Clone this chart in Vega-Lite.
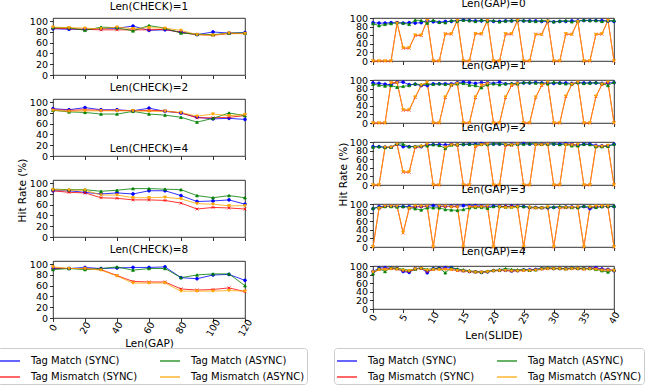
{
"$schema":"https://vega.github.io/schema/vega-lite/v6.json",
"padding":{"left":-4,"top":-2,"right":0,"bottom":0},
"data":{"values":[
{"p":"L","g":1,"x":0,"ms":86,"xs":87,"ma":88,"xa":89},
{"p":"L","g":1,"x":10,"ms":85,"xs":86,"ma":88,"xa":88},
{"p":"L","g":1,"x":20,"ms":85,"xs":85,"ma":83,"xa":87},
{"p":"L","g":1,"x":30,"ms":86,"xs":84,"ma":89,"xa":86},
{"p":"L","g":1,"x":40,"ms":87,"xs":84,"ma":88,"xa":89},
{"p":"L","g":1,"x":50,"ms":91,"xs":84,"ma":82,"xa":86},
{"p":"L","g":1,"x":60,"ms":83,"xs":84,"ma":92,"xa":88},
{"p":"L","g":1,"x":70,"ms":84,"xs":85,"ma":87,"xa":87},
{"p":"L","g":1,"x":80,"ms":80,"xs":79,"ma":78,"xa":83},
{"p":"L","g":1,"x":90,"ms":75,"xs":75,"ma":76,"xa":75},
{"p":"L","g":1,"x":100,"ms":80,"xs":74,"ma":75,"xa":74},
{"p":"L","g":1,"x":110,"ms":78,"xs":77,"ma":78,"xa":78},
{"p":"L","g":1,"x":120,"ms":79,"xs":77,"ma":78,"xa":77},
{"p":"L","g":2,"x":0,"ms":88,"xs":86,"ma":85,"xa":85},
{"p":"L","g":2,"x":10,"ms":86,"xs":85,"ma":82,"xa":83},
{"p":"L","g":2,"x":20,"ms":90,"xs":86,"ma":81,"xa":84},
{"p":"L","g":2,"x":30,"ms":86,"xs":85,"ma":78,"xa":84},
{"p":"L","g":2,"x":40,"ms":86,"xs":85,"ma":78,"xa":84},
{"p":"L","g":2,"x":50,"ms":84,"xs":84,"ma":83,"xa":84},
{"p":"L","g":2,"x":60,"ms":89,"xs":85,"ma":78,"xa":83},
{"p":"L","g":2,"x":70,"ms":83,"xs":84,"ma":76,"xa":83},
{"p":"L","g":2,"x":80,"ms":80,"xs":80,"ma":72,"xa":81},
{"p":"L","g":2,"x":90,"ms":72,"xs":71,"ma":63,"xa":74},
{"p":"L","g":2,"x":100,"ms":69,"xs":71,"ma":70,"xa":78},
{"p":"L","g":2,"x":110,"ms":70,"xs":72,"ma":80,"xa":75},
{"p":"L","g":2,"x":120,"ms":68,"xs":75,"ma":75,"xa":77},
{"p":"L","g":4,"x":0,"ms":86,"xs":86,"ma":89,"xa":88},
{"p":"L","g":4,"x":10,"ms":86,"xs":83,"ma":88,"xa":87},
{"p":"L","g":4,"x":20,"ms":83,"xs":82,"ma":88,"xa":87},
{"p":"L","g":4,"x":30,"ms":80,"xs":73,"ma":85,"xa":78},
{"p":"L","g":4,"x":40,"ms":82,"xs":72,"ma":87,"xa":78},
{"p":"L","g":4,"x":50,"ms":80,"xs":69,"ma":90,"xa":73},
{"p":"L","g":4,"x":60,"ms":86,"xs":69,"ma":90,"xa":73},
{"p":"L","g":4,"x":70,"ms":86,"xs":68,"ma":89,"xa":74},
{"p":"L","g":4,"x":80,"ms":77,"xs":63,"ma":88,"xa":71},
{"p":"L","g":4,"x":90,"ms":66,"xs":52,"ma":77,"xa":62},
{"p":"L","g":4,"x":100,"ms":67,"xs":55,"ma":73,"xa":61},
{"p":"L","g":4,"x":110,"ms":69,"xs":54,"ma":77,"xa":58},
{"p":"L","g":4,"x":120,"ms":61,"xs":52,"ma":73,"xa":58},
{"p":"L","g":8,"x":0,"ms":92,"xs":93,"ma":90,"xa":95},
{"p":"L","g":8,"x":10,"ms":92,"xs":92,"ma":92,"xa":92},
{"p":"L","g":8,"x":20,"ms":94,"xs":92,"ma":90,"xa":92},
{"p":"L","g":8,"x":30,"ms":92,"xs":90,"ma":92,"xa":89},
{"p":"L","g":8,"x":40,"ms":93,"xs":79,"ma":95,"xa":78},
{"p":"L","g":8,"x":50,"ms":94,"xs":68,"ma":89,"xa":65},
{"p":"L","g":8,"x":60,"ms":94,"xs":67,"ma":92,"xa":65},
{"p":"L","g":8,"x":70,"ms":95,"xs":67,"ma":92,"xa":65},
{"p":"L","g":8,"x":80,"ms":75,"xs":54,"ma":75,"xa":50},
{"p":"L","g":8,"x":90,"ms":73,"xs":52,"ma":80,"xa":50},
{"p":"L","g":8,"x":100,"ms":80,"xs":53,"ma":82,"xa":50},
{"p":"L","g":8,"x":110,"ms":81,"xs":56,"ma":82,"xa":51},
{"p":"L","g":8,"x":120,"ms":70,"xs":49,"ma":60,"xa":50},
{"p":"R","g":0,"x":0,"ms":90,"xs":0,"ma":88,"xa":0},
{"p":"R","g":0,"x":1,"ms":89,"xs":0,"ma":83,"xa":0},
{"p":"R","g":0,"x":2,"ms":89,"xs":0,"ma":86,"xa":0},
{"p":"R","g":0,"x":3,"ms":90,"xs":0,"ma":88,"xa":0},
{"p":"R","g":0,"x":4,"ms":90,"xs":90,"ma":90,"xa":88},
{"p":"R","g":0,"x":5,"ms":89,"xs":30,"ma":89,"xa":31},
{"p":"R","g":0,"x":6,"ms":90,"xs":30,"ma":86,"xa":31},
{"p":"R","g":0,"x":7,"ms":89,"xs":60,"ma":96,"xa":61},
{"p":"R","g":0,"x":8,"ms":90,"xs":60,"ma":95,"xa":61},
{"p":"R","g":0,"x":9,"ms":95,"xs":96,"ma":89,"xa":95},
{"p":"R","g":0,"x":10,"ms":92,"xs":0,"ma":96,"xa":0},
{"p":"R","g":0,"x":11,"ms":91,"xs":0,"ma":91,"xa":0},
{"p":"R","g":0,"x":12,"ms":93,"xs":64,"ma":90,"xa":63},
{"p":"R","g":0,"x":13,"ms":93,"xs":63,"ma":95,"xa":64},
{"p":"R","g":0,"x":14,"ms":95,"xs":96,"ma":94,"xa":95},
{"p":"R","g":0,"x":15,"ms":96,"xs":0,"ma":96,"xa":0},
{"p":"R","g":0,"x":16,"ms":95,"xs":0,"ma":95,"xa":0},
{"p":"R","g":0,"x":17,"ms":94,"xs":65,"ma":93,"xa":64},
{"p":"R","g":0,"x":18,"ms":94,"xs":63,"ma":96,"xa":64},
{"p":"R","g":0,"x":19,"ms":95,"xs":96,"ma":94,"xa":95},
{"p":"R","g":0,"x":20,"ms":93,"xs":0,"ma":95,"xa":0},
{"p":"R","g":0,"x":21,"ms":93,"xs":0,"ma":92,"xa":0},
{"p":"R","g":0,"x":22,"ms":94,"xs":63,"ma":94,"xa":64},
{"p":"R","g":0,"x":23,"ms":94,"xs":63,"ma":95,"xa":64},
{"p":"R","g":0,"x":24,"ms":95,"xs":96,"ma":96,"xa":95},
{"p":"R","g":0,"x":25,"ms":94,"xs":0,"ma":95,"xa":0},
{"p":"R","g":0,"x":26,"ms":94,"xs":0,"ma":94,"xa":0},
{"p":"R","g":0,"x":27,"ms":94,"xs":63,"ma":93,"xa":62},
{"p":"R","g":0,"x":28,"ms":93,"xs":63,"ma":95,"xa":62},
{"p":"R","g":0,"x":29,"ms":93,"xs":94,"ma":95,"xa":93},
{"p":"R","g":0,"x":30,"ms":92,"xs":0,"ma":92,"xa":0},
{"p":"R","g":0,"x":31,"ms":93,"xs":0,"ma":94,"xa":0},
{"p":"R","g":0,"x":32,"ms":93,"xs":63,"ma":95,"xa":64},
{"p":"R","g":0,"x":33,"ms":94,"xs":63,"ma":92,"xa":62},
{"p":"R","g":0,"x":34,"ms":94,"xs":93,"ma":94,"xa":92},
{"p":"R","g":0,"x":35,"ms":95,"xs":0,"ma":96,"xa":0},
{"p":"R","g":0,"x":36,"ms":95,"xs":0,"ma":95,"xa":0},
{"p":"R","g":0,"x":37,"ms":95,"xs":63,"ma":95,"xa":62},
{"p":"R","g":0,"x":38,"ms":95,"xs":63,"ma":93,"xa":64},
{"p":"R","g":0,"x":39,"ms":94,"xs":96,"ma":95,"xa":95},
{"p":"R","g":0,"x":40,"ms":93,"xs":0,"ma":95,"xa":0},
{"p":"R","g":1,"x":0,"ms":94,"xs":0,"ma":91,"xa":0},
{"p":"R","g":1,"x":1,"ms":93,"xs":0,"ma":89,"xa":0},
{"p":"R","g":1,"x":2,"ms":91,"xs":0,"ma":87,"xa":0},
{"p":"R","g":1,"x":3,"ms":90,"xs":95,"ma":88,"xa":94},
{"p":"R","g":1,"x":4,"ms":96,"xs":95,"ma":84,"xa":94},
{"p":"R","g":1,"x":5,"ms":96,"xs":30,"ma":86,"xa":31},
{"p":"R","g":1,"x":6,"ms":90,"xs":30,"ma":88,"xa":31},
{"p":"R","g":1,"x":7,"ms":91,"xs":60,"ma":92,"xa":61},
{"p":"R","g":1,"x":8,"ms":88,"xs":88,"ma":90,"xa":89},
{"p":"R","g":1,"x":9,"ms":88,"xs":95,"ma":92,"xa":96},
{"p":"R","g":1,"x":10,"ms":92,"xs":0,"ma":91,"xa":0},
{"p":"R","g":1,"x":11,"ms":92,"xs":0,"ma":92,"xa":0},
{"p":"R","g":1,"x":12,"ms":92,"xs":60,"ma":91,"xa":61},
{"p":"R","g":1,"x":13,"ms":92,"xs":88,"ma":90,"xa":89},
{"p":"R","g":1,"x":14,"ms":95,"xs":92,"ma":92,"xa":93},
{"p":"R","g":1,"x":15,"ms":96,"xs":0,"ma":93,"xa":0},
{"p":"R","g":1,"x":16,"ms":95,"xs":0,"ma":89,"xa":0},
{"p":"R","g":1,"x":17,"ms":93,"xs":60,"ma":88,"xa":61},
{"p":"R","g":1,"x":18,"ms":95,"xs":88,"ma":83,"xa":89},
{"p":"R","g":1,"x":19,"ms":95,"xs":92,"ma":90,"xa":93},
{"p":"R","g":1,"x":20,"ms":93,"xs":0,"ma":92,"xa":0},
{"p":"R","g":1,"x":21,"ms":96,"xs":0,"ma":90,"xa":0},
{"p":"R","g":1,"x":22,"ms":92,"xs":60,"ma":92,"xa":61},
{"p":"R","g":1,"x":23,"ms":92,"xs":88,"ma":93,"xa":89},
{"p":"R","g":1,"x":24,"ms":94,"xs":92,"ma":92,"xa":93},
{"p":"R","g":1,"x":25,"ms":94,"xs":0,"ma":95,"xa":0},
{"p":"R","g":1,"x":26,"ms":94,"xs":0,"ma":95,"xa":0},
{"p":"R","g":1,"x":27,"ms":95,"xs":60,"ma":94,"xa":61},
{"p":"R","g":1,"x":28,"ms":94,"xs":88,"ma":94,"xa":89},
{"p":"R","g":1,"x":29,"ms":94,"xs":95,"ma":92,"xa":96},
{"p":"R","g":1,"x":30,"ms":93,"xs":0,"ma":96,"xa":0},
{"p":"R","g":1,"x":31,"ms":94,"xs":0,"ma":94,"xa":0},
{"p":"R","g":1,"x":32,"ms":94,"xs":62,"ma":92,"xa":63},
{"p":"R","g":1,"x":33,"ms":93,"xs":90,"ma":92,"xa":91},
{"p":"R","g":1,"x":34,"ms":95,"xs":95,"ma":95,"xa":96},
{"p":"R","g":1,"x":35,"ms":94,"xs":0,"ma":93,"xa":0},
{"p":"R","g":1,"x":36,"ms":94,"xs":0,"ma":94,"xa":0},
{"p":"R","g":1,"x":37,"ms":94,"xs":62,"ma":95,"xa":63},
{"p":"R","g":1,"x":38,"ms":93,"xs":90,"ma":93,"xa":91},
{"p":"R","g":1,"x":39,"ms":94,"xs":95,"ma":88,"xa":96},
{"p":"R","g":1,"x":40,"ms":95,"xs":0,"ma":96,"xa":0},
{"p":"R","g":2,"x":0,"ms":90,"xs":0,"ma":89,"xa":0},
{"p":"R","g":2,"x":1,"ms":90,"xs":0,"ma":90,"xa":0},
{"p":"R","g":2,"x":2,"ms":89,"xs":88,"ma":88,"xa":89},
{"p":"R","g":2,"x":3,"ms":89,"xs":88,"ma":89,"xa":89},
{"p":"R","g":2,"x":4,"ms":96,"xs":95,"ma":97,"xa":96},
{"p":"R","g":2,"x":5,"ms":90,"xs":30,"ma":96,"xa":31},
{"p":"R","g":2,"x":6,"ms":90,"xs":30,"ma":90,"xa":31},
{"p":"R","g":2,"x":7,"ms":90,"xs":88,"ma":91,"xa":89},
{"p":"R","g":2,"x":8,"ms":90,"xs":90,"ma":92,"xa":91},
{"p":"R","g":2,"x":9,"ms":95,"xs":95,"ma":92,"xa":96},
{"p":"R","g":2,"x":10,"ms":95,"xs":0,"ma":95,"xa":0},
{"p":"R","g":2,"x":11,"ms":95,"xs":0,"ma":93,"xa":0},
{"p":"R","g":2,"x":12,"ms":94,"xs":88,"ma":86,"xa":89},
{"p":"R","g":2,"x":13,"ms":96,"xs":95,"ma":94,"xa":94},
{"p":"R","g":2,"x":14,"ms":95,"xs":93,"ma":95,"xa":94},
{"p":"R","g":2,"x":15,"ms":95,"xs":0,"ma":96,"xa":0},
{"p":"R","g":2,"x":16,"ms":96,"xs":0,"ma":96,"xa":0},
{"p":"R","g":2,"x":17,"ms":96,"xs":90,"ma":95,"xa":91},
{"p":"R","g":2,"x":18,"ms":97,"xs":95,"ma":96,"xa":94},
{"p":"R","g":2,"x":19,"ms":96,"xs":97,"ma":95,"xa":96},
{"p":"R","g":2,"x":20,"ms":96,"xs":0,"ma":97,"xa":0},
{"p":"R","g":2,"x":21,"ms":96,"xs":0,"ma":97,"xa":0},
{"p":"R","g":2,"x":22,"ms":95,"xs":93,"ma":96,"xa":94},
{"p":"R","g":2,"x":23,"ms":96,"xs":93,"ma":95,"xa":94},
{"p":"R","g":2,"x":24,"ms":96,"xs":97,"ma":96,"xa":96},
{"p":"R","g":2,"x":25,"ms":97,"xs":0,"ma":96,"xa":0},
{"p":"R","g":2,"x":26,"ms":96,"xs":0,"ma":97,"xa":0},
{"p":"R","g":2,"x":27,"ms":96,"xs":95,"ma":97,"xa":94},
{"p":"R","g":2,"x":28,"ms":96,"xs":95,"ma":96,"xa":94},
{"p":"R","g":2,"x":29,"ms":97,"xs":95,"ma":96,"xa":96},
{"p":"R","g":2,"x":30,"ms":96,"xs":0,"ma":97,"xa":0},
{"p":"R","g":2,"x":31,"ms":96,"xs":0,"ma":95,"xa":0},
{"p":"R","g":2,"x":32,"ms":97,"xs":95,"ma":96,"xa":94},
{"p":"R","g":2,"x":33,"ms":96,"xs":95,"ma":92,"xa":94},
{"p":"R","g":2,"x":34,"ms":94,"xs":94,"ma":92,"xa":95},
{"p":"R","g":2,"x":35,"ms":96,"xs":0,"ma":96,"xa":0},
{"p":"R","g":2,"x":36,"ms":96,"xs":0,"ma":95,"xa":0},
{"p":"R","g":2,"x":37,"ms":93,"xs":90,"ma":90,"xa":91},
{"p":"R","g":2,"x":38,"ms":92,"xs":90,"ma":90,"xa":91},
{"p":"R","g":2,"x":39,"ms":92,"xs":92,"ma":91,"xa":93},
{"p":"R","g":2,"x":40,"ms":96,"xs":0,"ma":96,"xa":0},
{"p":"R","g":3,"x":0,"ms":90,"xs":0,"ma":91,"xa":0},
{"p":"R","g":3,"x":1,"ms":95,"xs":90,"ma":93,"xa":91},
{"p":"R","g":3,"x":2,"ms":96,"xs":95,"ma":95,"xa":96},
{"p":"R","g":3,"x":3,"ms":96,"xs":95,"ma":95,"xa":96},
{"p":"R","g":3,"x":4,"ms":96,"xs":95,"ma":94,"xa":96},
{"p":"R","g":3,"x":5,"ms":95,"xs":33,"ma":95,"xa":34},
{"p":"R","g":3,"x":6,"ms":95,"xs":90,"ma":93,"xa":91},
{"p":"R","g":3,"x":7,"ms":94,"xs":95,"ma":90,"xa":96},
{"p":"R","g":3,"x":8,"ms":95,"xs":95,"ma":87,"xa":96},
{"p":"R","g":3,"x":9,"ms":96,"xs":95,"ma":92,"xa":96},
{"p":"R","g":3,"x":10,"ms":97,"xs":0,"ma":92,"xa":0},
{"p":"R","g":3,"x":11,"ms":96,"xs":95,"ma":92,"xa":96},
{"p":"R","g":3,"x":12,"ms":96,"xs":95,"ma":88,"xa":96},
{"p":"R","g":3,"x":13,"ms":96,"xs":95,"ma":87,"xa":94},
{"p":"R","g":3,"x":14,"ms":96,"xs":95,"ma":86,"xa":94},
{"p":"R","g":3,"x":15,"ms":97,"xs":0,"ma":88,"xa":0},
{"p":"R","g":3,"x":16,"ms":97,"xs":95,"ma":92,"xa":94},
{"p":"R","g":3,"x":17,"ms":97,"xs":95,"ma":93,"xa":94},
{"p":"R","g":3,"x":18,"ms":96,"xs":95,"ma":93,"xa":94},
{"p":"R","g":3,"x":19,"ms":96,"xs":95,"ma":91,"xa":96},
{"p":"R","g":3,"x":20,"ms":96,"xs":0,"ma":95,"xa":0},
{"p":"R","g":3,"x":21,"ms":96,"xs":95,"ma":95,"xa":94},
{"p":"R","g":3,"x":22,"ms":95,"xs":95,"ma":94,"xa":92},
{"p":"R","g":3,"x":23,"ms":96,"xs":95,"ma":94,"xa":92},
{"p":"R","g":3,"x":24,"ms":96,"xs":95,"ma":95,"xa":94},
{"p":"R","g":3,"x":25,"ms":95,"xs":0,"ma":95,"xa":0},
{"p":"R","g":3,"x":26,"ms":93,"xs":92,"ma":94,"xa":93},
{"p":"R","g":3,"x":27,"ms":93,"xs":92,"ma":93,"xa":91},
{"p":"R","g":3,"x":28,"ms":92,"xs":92,"ma":93,"xa":91},
{"p":"R","g":3,"x":29,"ms":92,"xs":93,"ma":94,"xa":94},
{"p":"R","g":3,"x":30,"ms":93,"xs":0,"ma":94,"xa":0},
{"p":"R","g":3,"x":31,"ms":93,"xs":92,"ma":95,"xa":91},
{"p":"R","g":3,"x":32,"ms":94,"xs":92,"ma":94,"xa":93},
{"p":"R","g":3,"x":33,"ms":94,"xs":92,"ma":93,"xa":93},
{"p":"R","g":3,"x":34,"ms":93,"xs":93,"ma":93,"xa":94},
{"p":"R","g":3,"x":35,"ms":95,"xs":0,"ma":96,"xa":0},
{"p":"R","g":3,"x":36,"ms":90,"xs":93,"ma":95,"xa":94},
{"p":"R","g":3,"x":37,"ms":94,"xs":95,"ma":93,"xa":96},
{"p":"R","g":3,"x":38,"ms":95,"xs":95,"ma":95,"xa":96},
{"p":"R","g":3,"x":39,"ms":95,"xs":95,"ma":96,"xa":96},
{"p":"R","g":3,"x":40,"ms":95,"xs":0,"ma":96,"xa":0},
{"p":"R","g":4,"x":0,"ms":88,"xs":85,"ma":83,"xa":87},
{"p":"R","g":4,"x":1,"ms":96,"xs":93,"ma":95,"xa":92},
{"p":"R","g":4,"x":2,"ms":97,"xs":94,"ma":88,"xa":93},
{"p":"R","g":4,"x":3,"ms":96,"xs":95,"ma":97,"xa":94},
{"p":"R","g":4,"x":4,"ms":95,"xs":94,"ma":96,"xa":93},
{"p":"R","g":4,"x":5,"ms":88,"xs":90,"ma":93,"xa":91},
{"p":"R","g":4,"x":6,"ms":86,"xs":88,"ma":91,"xa":90},
{"p":"R","g":4,"x":7,"ms":95,"xs":93,"ma":94,"xa":94},
{"p":"R","g":4,"x":8,"ms":96,"xs":96,"ma":97,"xa":95},
{"p":"R","g":4,"x":9,"ms":85,"xs":88,"ma":93,"xa":91},
{"p":"R","g":4,"x":10,"ms":95,"xs":93,"ma":95,"xa":92},
{"p":"R","g":4,"x":11,"ms":96,"xs":94,"ma":96,"xa":92},
{"p":"R","g":4,"x":12,"ms":97,"xs":94,"ma":85,"xa":93},
{"p":"R","g":4,"x":13,"ms":97,"xs":93,"ma":97,"xa":92},
{"p":"R","g":4,"x":14,"ms":92,"xs":90,"ma":94,"xa":90},
{"p":"R","g":4,"x":15,"ms":90,"xs":89,"ma":92,"xa":89},
{"p":"R","g":4,"x":16,"ms":88,"xs":88,"ma":90,"xa":88},
{"p":"R","g":4,"x":17,"ms":87,"xs":87,"ma":88,"xa":86},
{"p":"R","g":4,"x":18,"ms":86,"xs":87,"ma":87,"xa":86},
{"p":"R","g":4,"x":19,"ms":87,"xs":88,"ma":89,"xa":87},
{"p":"R","g":4,"x":20,"ms":90,"xs":90,"ma":91,"xa":89},
{"p":"R","g":4,"x":21,"ms":91,"xs":91,"ma":92,"xa":90},
{"p":"R","g":4,"x":22,"ms":91,"xs":91,"ma":95,"xa":90},
{"p":"R","g":4,"x":23,"ms":89,"xs":90,"ma":93,"xa":89},
{"p":"R","g":4,"x":24,"ms":90,"xs":90,"ma":92,"xa":89},
{"p":"R","g":4,"x":25,"ms":92,"xs":91,"ma":93,"xa":90},
{"p":"R","g":4,"x":26,"ms":92,"xs":91,"ma":91,"xa":90},
{"p":"R","g":4,"x":27,"ms":93,"xs":92,"ma":92,"xa":91},
{"p":"R","g":4,"x":28,"ms":95,"xs":94,"ma":96,"xa":93},
{"p":"R","g":4,"x":29,"ms":96,"xs":95,"ma":97,"xa":94},
{"p":"R","g":4,"x":30,"ms":95,"xs":95,"ma":96,"xa":94},
{"p":"R","g":4,"x":31,"ms":95,"xs":95,"ma":96,"xa":94},
{"p":"R","g":4,"x":32,"ms":95,"xs":94,"ma":95,"xa":93},
{"p":"R","g":4,"x":33,"ms":96,"xs":95,"ma":97,"xa":94},
{"p":"R","g":4,"x":34,"ms":95,"xs":95,"ma":96,"xa":94},
{"p":"R","g":4,"x":35,"ms":95,"xs":94,"ma":96,"xa":93},
{"p":"R","g":4,"x":36,"ms":96,"xs":95,"ma":95,"xa":94},
{"p":"R","g":4,"x":37,"ms":97,"xs":95,"ma":93,"xa":93},
{"p":"R","g":4,"x":38,"ms":94,"xs":92,"ma":90,"xa":91},
{"p":"R","g":4,"x":39,"ms":93,"xs":92,"ma":87,"xa":91},
{"p":"R","g":4,"x":40,"ms":90,"xs":91,"ma":92,"xa":90}
]},
"transform":[
{"fold":["ms","xs","ma","xa"],"as":["k","value"]},
{"lookup":"k","from":{"data":{"values":[{"k":"ms","series":"Tag Match (SYNC)"},{"k":"xs","series":"Tag Mismatch (SYNC)"},{"k":"ma","series":"Tag Match (ASYNC)"},{"k":"xa","series":"Tag Mismatch (ASYNC)"}]},"key":"k","fields":["series"]}}
],
"config":{
"font":"DejaVu Sans",
"view":{"stroke":"#000","strokeWidth":0.8},
"axis":{"grid":false,"domain":false,"tickColor":"#000","tickWidth":0.8,"tickSize":3.5,"labelColor":"#000","labelFontSize":9.5,"labelPadding":2,"titleColor":"#000","titleFontSize":10.5,"titleFontWeight":"normal"},
"axisY":{"labelOverlap":false},
"title":{"fontSize":10.5,"fontWeight":"normal","color":"#000","offset":0},
"legend":{"title":null,"labelFontSize":10,"labelColor":"#000","columns":2,"symbolType":"stroke","symbolSize":400,"symbolStrokeWidth":1.5,"columnPadding":19,"rowPadding":-4,"labelOffset":10,"padding":2,"strokeColor":"#cccccc","fillColor":"#ffffff","cornerRadius":3,"orient":"none"}
},
"spacing":25,
"resolve":{"scale":{"color":"independent"}},
"hconcat":[
{"vconcat":[
{"width":192,"height":57,"title":"Len(CHECK)=1","transform":[{"filter":"datum.p == 'L' && datum.g == 1"}],
"encoding":{"x":{"field":"x","type":"quantitative","scale":{"domain":[0,120],"nice":false},"axis":{"values":[0,20,40,60,80,100,120],"labels":false,"title":null}},
"y":{"field":"value","type":"quantitative","scale":{"domain":[0,106],"nice":false},"axis":{"values":[0,20,40,60,80,100],"title":null}}},
"layer":[{"mark":{"type":"line","strokeWidth":1,"opacity":0.8},"encoding":{"color":{"field":"series","type":"nominal","scale":{"domain":["Tag Match (SYNC)","Tag Mismatch (SYNC)","Tag Match (ASYNC)","Tag Mismatch (ASYNC)"],"range":["#0000ff","#ff0000","#008000","#ffa500"]},"legend":null}}},
{"transform":[{"filter":"datum.k == 'ms'"}],"mark":{"type":"point","filled":true,"size":8,"shape":"circle","fill":"#0000ff","stroke":"#0000ff","strokeWidth":0.8,"opacity":1}},
{"transform":[{"filter":"datum.k == 'xs'"}],"mark":{"type":"point","filled":true,"size":8,"shape":"M-1,-1L1,1M-1,1L1,-1","fill":"#ff0000","stroke":"#ff0000","strokeWidth":0.8,"opacity":1}},
{"transform":[{"filter":"datum.k == 'ma'"}],"mark":{"type":"point","filled":true,"size":8,"shape":"triangle-up","fill":"#008000","stroke":"#008000","strokeWidth":0.8,"opacity":1}},
{"transform":[{"filter":"datum.k == 'xa'"}],"mark":{"type":"point","filled":true,"size":8,"shape":"triangle-down","fill":"#ffa500","stroke":"#ffa500","strokeWidth":0.8,"opacity":1}}]},
{"width":192,"height":57,"title":"Len(CHECK)=2","transform":[{"filter":"datum.p == 'L' && datum.g == 2"}],
"encoding":{"x":{"field":"x","type":"quantitative","scale":{"domain":[0,120],"nice":false},"axis":{"values":[0,20,40,60,80,100,120],"labels":false,"title":null}},
"y":{"field":"value","type":"quantitative","scale":{"domain":[0,106],"nice":false},"axis":{"values":[0,20,40,60,80,100],"title":null}}},
"layer":[{"mark":{"type":"line","strokeWidth":1,"opacity":0.8},"encoding":{"color":{"field":"series","type":"nominal","scale":{"domain":["Tag Match (SYNC)","Tag Mismatch (SYNC)","Tag Match (ASYNC)","Tag Mismatch (ASYNC)"],"range":["#0000ff","#ff0000","#008000","#ffa500"]},"legend":null}}},
{"transform":[{"filter":"datum.k == 'ms'"}],"mark":{"type":"point","filled":true,"size":8,"shape":"circle","fill":"#0000ff","stroke":"#0000ff","strokeWidth":0.8,"opacity":1}},
{"transform":[{"filter":"datum.k == 'xs'"}],"mark":{"type":"point","filled":true,"size":8,"shape":"M-1,-1L1,1M-1,1L1,-1","fill":"#ff0000","stroke":"#ff0000","strokeWidth":0.8,"opacity":1}},
{"transform":[{"filter":"datum.k == 'ma'"}],"mark":{"type":"point","filled":true,"size":8,"shape":"triangle-up","fill":"#008000","stroke":"#008000","strokeWidth":0.8,"opacity":1}},
{"transform":[{"filter":"datum.k == 'xa'"}],"mark":{"type":"point","filled":true,"size":8,"shape":"triangle-down","fill":"#ffa500","stroke":"#ffa500","strokeWidth":0.8,"opacity":1}}]},
{"width":192,"height":57,"title":"Len(CHECK)=4","transform":[{"filter":"datum.p == 'L' && datum.g == 4"}],
"encoding":{"x":{"field":"x","type":"quantitative","scale":{"domain":[0,120],"nice":false},"axis":{"values":[0,20,40,60,80,100,120],"labels":false,"title":null}},
"y":{"field":"value","type":"quantitative","scale":{"domain":[0,106],"nice":false},"axis":{"values":[0,20,40,60,80,100],"title":"Hit Rate (%)","titleX":-31,"titleY":10,"titleAngle":-90,"titleAlign":"center","titleBaseline":"middle"}}},
"layer":[{"mark":{"type":"line","strokeWidth":1,"opacity":0.8},"encoding":{"color":{"field":"series","type":"nominal","scale":{"domain":["Tag Match (SYNC)","Tag Mismatch (SYNC)","Tag Match (ASYNC)","Tag Mismatch (ASYNC)"],"range":["#0000ff","#ff0000","#008000","#ffa500"]},"legend":null}}},
{"transform":[{"filter":"datum.k == 'ms'"}],"mark":{"type":"point","filled":true,"size":8,"shape":"circle","fill":"#0000ff","stroke":"#0000ff","strokeWidth":0.8,"opacity":1}},
{"transform":[{"filter":"datum.k == 'xs'"}],"mark":{"type":"point","filled":true,"size":8,"shape":"M-1,-1L1,1M-1,1L1,-1","fill":"#ff0000","stroke":"#ff0000","strokeWidth":0.8,"opacity":1}},
{"transform":[{"filter":"datum.k == 'ma'"}],"mark":{"type":"point","filled":true,"size":8,"shape":"triangle-up","fill":"#008000","stroke":"#008000","strokeWidth":0.8,"opacity":1}},
{"transform":[{"filter":"datum.k == 'xa'"}],"mark":{"type":"point","filled":true,"size":8,"shape":"triangle-down","fill":"#ffa500","stroke":"#ffa500","strokeWidth":0.8,"opacity":1}}]},
{"width":192,"height":57,"title":"Len(CHECK)=8","transform":[{"filter":"datum.p == 'L' && datum.g == 8"}],
"encoding":{"x":{"field":"x","type":"quantitative","scale":{"domain":[0,120],"nice":false},"axis":{"values":[0,20,40,60,80,100,120],"labelAngle":-60,"labelAlign":"center","labelBaseline":"middle","labelPadding":6,"labelFlush":false,"labelOverlap":false,"title":"Len(GAP)","titleY":25,"titleBaseline":"middle"}},
"y":{"field":"value","type":"quantitative","scale":{"domain":[0,106],"nice":false},"axis":{"values":[0,20,40,60,80,100],"title":null}}},
"layer":[{"mark":{"type":"line","strokeWidth":1,"opacity":0.8},"encoding":{"color":{"field":"series","type":"nominal","scale":{"domain":["Tag Match (SYNC)","Tag Mismatch (SYNC)","Tag Match (ASYNC)","Tag Mismatch (ASYNC)"],"range":["#0000ff","#ff0000","#008000","#ffa500"]},"legend":{"legendX":-56,"legendY":87}}}},
{"transform":[{"filter":"datum.k == 'ms'"}],"mark":{"type":"point","filled":true,"size":8,"shape":"circle","fill":"#0000ff","stroke":"#0000ff","strokeWidth":0.8,"opacity":1}},
{"transform":[{"filter":"datum.k == 'xs'"}],"mark":{"type":"point","filled":true,"size":8,"shape":"M-1,-1L1,1M-1,1L1,-1","fill":"#ff0000","stroke":"#ff0000","strokeWidth":0.8,"opacity":1}},
{"transform":[{"filter":"datum.k == 'ma'"}],"mark":{"type":"point","filled":true,"size":8,"shape":"triangle-up","fill":"#008000","stroke":"#008000","strokeWidth":0.8,"opacity":1}},
{"transform":[{"filter":"datum.k == 'xa'"}],"mark":{"type":"point","filled":true,"size":8,"shape":"triangle-down","fill":"#ffa500","stroke":"#ffa500","strokeWidth":0.8,"opacity":1}}]}
],"spacing":24,"bounds":"flush","resolve":{"scale":{"color":"independent"}}},
{"vconcat":[
{"width":241,"height":43,"title":"Len(GAP)=0","transform":[{"filter":"datum.p == 'R' && datum.g == 0"}],
"encoding":{"x":{"field":"x","type":"quantitative","scale":{"domain":[0,40],"nice":false},"axis":{"values":[0,5,10,15,20,25,30,35,40],"labels":false,"title":null}},
"y":{"field":"value","type":"quantitative","scale":{"domain":[0,101],"nice":false},"axis":{"values":[0,20,40,60,80,100],"title":null}}},
"layer":[{"mark":{"type":"line","strokeWidth":1,"opacity":0.8},"encoding":{"color":{"field":"series","type":"nominal","scale":{"domain":["Tag Match (SYNC)","Tag Mismatch (SYNC)","Tag Match (ASYNC)","Tag Mismatch (ASYNC)"],"range":["#0000ff","#ff0000","#008000","#ffa500"]},"legend":null}}},
{"transform":[{"filter":"datum.k == 'ms'"}],"mark":{"type":"point","filled":true,"size":8,"shape":"circle","fill":"#0000ff","stroke":"#0000ff","strokeWidth":0.8,"opacity":1}},
{"transform":[{"filter":"datum.k == 'xs'"}],"mark":{"type":"point","filled":true,"size":8,"shape":"M-1,-1L1,1M-1,1L1,-1","fill":"#ff0000","stroke":"#ff0000","strokeWidth":0.8,"opacity":1}},
{"transform":[{"filter":"datum.k == 'ma'"}],"mark":{"type":"point","filled":true,"size":8,"shape":"triangle-up","fill":"#008000","stroke":"#008000","strokeWidth":0.8,"opacity":1}},
{"transform":[{"filter":"datum.k == 'xa'"}],"mark":{"type":"point","filled":true,"size":8,"shape":"triangle-down","fill":"#ffa500","stroke":"#ffa500","strokeWidth":0.8,"opacity":1}}]},
{"width":241,"height":43,"title":"Len(GAP)=1","transform":[{"filter":"datum.p == 'R' && datum.g == 1"}],
"encoding":{"x":{"field":"x","type":"quantitative","scale":{"domain":[0,40],"nice":false},"axis":{"values":[0,5,10,15,20,25,30,35,40],"labels":false,"title":null}},
"y":{"field":"value","type":"quantitative","scale":{"domain":[0,101],"nice":false},"axis":{"values":[0,20,40,60,80,100],"title":null}}},
"layer":[{"mark":{"type":"line","strokeWidth":1,"opacity":0.8},"encoding":{"color":{"field":"series","type":"nominal","scale":{"domain":["Tag Match (SYNC)","Tag Mismatch (SYNC)","Tag Match (ASYNC)","Tag Mismatch (ASYNC)"],"range":["#0000ff","#ff0000","#008000","#ffa500"]},"legend":null}}},
{"transform":[{"filter":"datum.k == 'ms'"}],"mark":{"type":"point","filled":true,"size":8,"shape":"circle","fill":"#0000ff","stroke":"#0000ff","strokeWidth":0.8,"opacity":1}},
{"transform":[{"filter":"datum.k == 'xs'"}],"mark":{"type":"point","filled":true,"size":8,"shape":"M-1,-1L1,1M-1,1L1,-1","fill":"#ff0000","stroke":"#ff0000","strokeWidth":0.8,"opacity":1}},
{"transform":[{"filter":"datum.k == 'ma'"}],"mark":{"type":"point","filled":true,"size":8,"shape":"triangle-up","fill":"#008000","stroke":"#008000","strokeWidth":0.8,"opacity":1}},
{"transform":[{"filter":"datum.k == 'xa'"}],"mark":{"type":"point","filled":true,"size":8,"shape":"triangle-down","fill":"#ffa500","stroke":"#ffa500","strokeWidth":0.8,"opacity":1}}]},
{"width":241,"height":43,"title":"Len(GAP)=2","transform":[{"filter":"datum.p == 'R' && datum.g == 2"}],
"encoding":{"x":{"field":"x","type":"quantitative","scale":{"domain":[0,40],"nice":false},"axis":{"values":[0,5,10,15,20,25,30,35,40],"labels":false,"title":null}},
"y":{"field":"value","type":"quantitative","scale":{"domain":[0,101],"nice":false},"axis":{"values":[0,20,40,60,80,100],"title":"Hit Rate (%)","titleX":-30,"titleY":32,"titleAngle":-90,"titleAlign":"center","titleBaseline":"middle"}}},
"layer":[{"mark":{"type":"line","strokeWidth":1,"opacity":0.8},"encoding":{"color":{"field":"series","type":"nominal","scale":{"domain":["Tag Match (SYNC)","Tag Mismatch (SYNC)","Tag Match (ASYNC)","Tag Mismatch (ASYNC)"],"range":["#0000ff","#ff0000","#008000","#ffa500"]},"legend":null}}},
{"transform":[{"filter":"datum.k == 'ms'"}],"mark":{"type":"point","filled":true,"size":8,"shape":"circle","fill":"#0000ff","stroke":"#0000ff","strokeWidth":0.8,"opacity":1}},
{"transform":[{"filter":"datum.k == 'xs'"}],"mark":{"type":"point","filled":true,"size":8,"shape":"M-1,-1L1,1M-1,1L1,-1","fill":"#ff0000","stroke":"#ff0000","strokeWidth":0.8,"opacity":1}},
{"transform":[{"filter":"datum.k == 'ma'"}],"mark":{"type":"point","filled":true,"size":8,"shape":"triangle-up","fill":"#008000","stroke":"#008000","strokeWidth":0.8,"opacity":1}},
{"transform":[{"filter":"datum.k == 'xa'"}],"mark":{"type":"point","filled":true,"size":8,"shape":"triangle-down","fill":"#ffa500","stroke":"#ffa500","strokeWidth":0.8,"opacity":1}}]},
{"width":241,"height":43,"title":"Len(GAP)=3","transform":[{"filter":"datum.p == 'R' && datum.g == 3"}],
"encoding":{"x":{"field":"x","type":"quantitative","scale":{"domain":[0,40],"nice":false},"axis":{"values":[0,5,10,15,20,25,30,35,40],"labels":false,"title":null}},
"y":{"field":"value","type":"quantitative","scale":{"domain":[0,101],"nice":false},"axis":{"values":[0,20,40,60,80,100],"title":null}}},
"layer":[{"mark":{"type":"line","strokeWidth":1,"opacity":0.8},"encoding":{"color":{"field":"series","type":"nominal","scale":{"domain":["Tag Match (SYNC)","Tag Mismatch (SYNC)","Tag Match (ASYNC)","Tag Mismatch (ASYNC)"],"range":["#0000ff","#ff0000","#008000","#ffa500"]},"legend":null}}},
{"transform":[{"filter":"datum.k == 'ms'"}],"mark":{"type":"point","filled":true,"size":8,"shape":"circle","fill":"#0000ff","stroke":"#0000ff","strokeWidth":0.8,"opacity":1}},
{"transform":[{"filter":"datum.k == 'xs'"}],"mark":{"type":"point","filled":true,"size":8,"shape":"M-1,-1L1,1M-1,1L1,-1","fill":"#ff0000","stroke":"#ff0000","strokeWidth":0.8,"opacity":1}},
{"transform":[{"filter":"datum.k == 'ma'"}],"mark":{"type":"point","filled":true,"size":8,"shape":"triangle-up","fill":"#008000","stroke":"#008000","strokeWidth":0.8,"opacity":1}},
{"transform":[{"filter":"datum.k == 'xa'"}],"mark":{"type":"point","filled":true,"size":8,"shape":"triangle-down","fill":"#ffa500","stroke":"#ffa500","strokeWidth":0.8,"opacity":1}}]},
{"width":241,"height":43,"title":"Len(GAP)=4","transform":[{"filter":"datum.p == 'R' && datum.g == 4"}],
"encoding":{"x":{"field":"x","type":"quantitative","scale":{"domain":[0,40],"nice":false},"axis":{"values":[0,5,10,15,20,25,30,35,40],"labelAngle":-60,"labelAlign":"center","labelBaseline":"middle","labelPadding":5,"labelFlush":false,"labelOverlap":false,"title":"Len(SLIDE)","titleY":26,"titleBaseline":"middle"}},
"y":{"field":"value","type":"quantitative","scale":{"domain":[0,101],"nice":false},"axis":{"values":[0,20,40,60,80,100],"title":null}}},
"layer":[{"mark":{"type":"line","strokeWidth":1,"opacity":0.8},"encoding":{"color":{"field":"series","type":"nominal","scale":{"domain":["Tag Match (SYNC)","Tag Mismatch (SYNC)","Tag Match (ASYNC)","Tag Mismatch (ASYNC)"],"range":["#0000ff","#ff0000","#008000","#ffa500"]},"legend":{"legendX":-39,"legendY":82}}}},
{"transform":[{"filter":"datum.k == 'ms'"}],"mark":{"type":"point","filled":true,"size":8,"shape":"circle","fill":"#0000ff","stroke":"#0000ff","strokeWidth":0.8,"opacity":1}},
{"transform":[{"filter":"datum.k == 'xs'"}],"mark":{"type":"point","filled":true,"size":8,"shape":"M-1,-1L1,1M-1,1L1,-1","fill":"#ff0000","stroke":"#ff0000","strokeWidth":0.8,"opacity":1}},
{"transform":[{"filter":"datum.k == 'ma'"}],"mark":{"type":"point","filled":true,"size":8,"shape":"triangle-up","fill":"#008000","stroke":"#008000","strokeWidth":0.8,"opacity":1}},
{"transform":[{"filter":"datum.k == 'xa'"}],"mark":{"type":"point","filled":true,"size":8,"shape":"triangle-down","fill":"#ffa500","stroke":"#ffa500","strokeWidth":0.8,"opacity":1}}]}
],"spacing":19,"bounds":"flush","resolve":{"scale":{"color":"independent"}}}
]
}
